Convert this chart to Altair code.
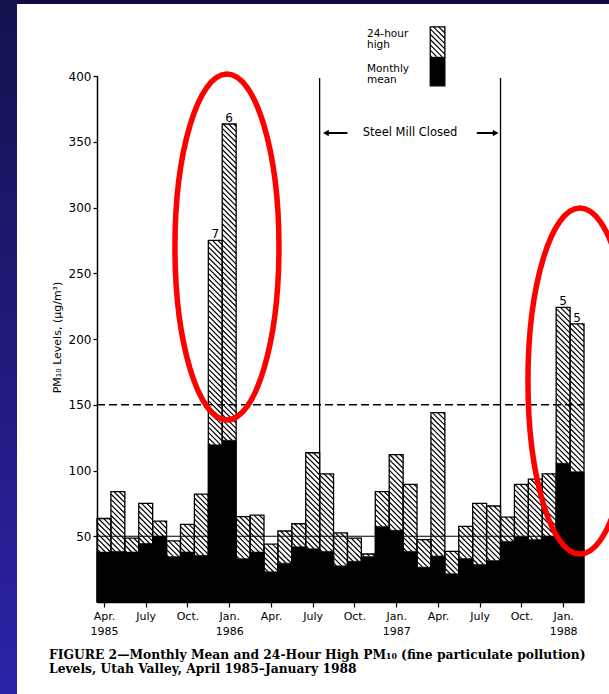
import json
import altair as alt
import numpy as np
import pandas as pd

# ---------------- data ----------------
months = ["Apr 1985", "May 1985", "Jun 1985", "Jul 1985", "Aug 1985", "Sep 1985", "Oct 1985",
          "Nov 1985", "Dec 1985", "Jan 1986", "Feb 1986", "Mar 1986", "Apr 1986", "May 1986",
          "Jun 1986", "Jul 1986", "Aug 1986", "Sep 1986", "Oct 1986", "Nov 1986", "Dec 1986",
          "Jan 1987", "Feb 1987", "Mar 1987", "Apr 1987", "May 1987", "Jun 1987", "Jul 1987",
          "Aug 1987", "Sep 1987", "Oct 1987", "Nov 1987", "Dec 1987", "Jan 1988", "Feb 1988"]
high_24h = [63.5, 84, 48.5, 75, 61.5, 46.5, 59, 82, 275, 363.5,
            65, 66, 44, 54, 59.5, 113.5, 97.5, 52.5, 48.5, 36.5,
            84, 112, 89.5, 47.5, 144, 38.5, 57.5, 75, 73, 64.5,
            89.5, 93.5, 97.5, 224, 211.5]
monthly_mean = [38, 38.5, 38, 44.5, 50, 34.5, 38, 35.5, 119.5, 123,
                33, 38, 23, 29.5, 42, 40.5, 38.5, 27.5, 31, 34.5,
                57.5, 54.5, 38.5, 26.5, 35, 21.5, 33, 28.5, 31.5, 46,
                49.5, 47.5, 50, 105.5, 99]
days_over_label = [""] * 8 + ["7", "6"] + [""] * 23 + ["5", "5"]

tick_at = ["Apr 1985", "Jul 1985", "Oct 1985", "Jan 1986", "Apr 1986", "Jul 1986",
           "Oct 1986", "Jan 1987", "Apr 1987", "Jul 1987", "Oct 1987", "Jan 1988"]
tick_months = ["Apr.", "July", "Oct.", "Jan.", "Apr.", "July", "Oct.", "Jan.",
               "Apr.", "July", "Oct.", "Jan."]
tick_years = ["1985", "", "", "1986", "", "", "", "1987", "", "", "", "1988"]
y_ticks = [50, 100, 150, 200, 250, 300, 350, 400]

mill_closed = "Aug 1986"
mill_reopened = "Sep 1987"
mill_text = "Steel Mill Closed"
standard_24h = 150
standard_annual = 50

legend_x = [23.95, 25.0]
legend_levels = [392.5, 414.6, 437.4]
legend_texts = ["24-hour", "high", "Monthly", "mean"]

ellipse_x = [9.34, 34.71]
ellipse_y = [270, 168]

caption_1 = "FIGURE 2\u2014Monthly Mean and 24-Hour High PM\u2081\u2080 (fine particulate pollution)"
caption_2 = "Levels, Utah Valley, April 1985\u2013January 1988"
y_title = "PM\u2081\u2080 Levels, (\u00b5g/m\u00b3)"

# ---------------- geometry / style ----------------
W, H = 487, 526
NB = len(months)
YMAX = 400
sx = W / NB
sy = H / YMAX
r = sx / sy
FONT = "DejaVu Sans"

bars = pd.DataFrame({
    "month": months,
    "i0": np.arange(NB, dtype=float),
    "i1": np.arange(NB, dtype=float) + 1,
    "ic": np.arange(NB, dtype=float) + 0.5,
    "high": high_24h,
    "mean": monthly_mean,
    "zero": 0.0,
    "lab": days_over_label,
})


def hatch_segments(L, R, lo, hi, step_px=5.3):
    d = step_px / sy
    out = []
    k0 = int(np.ceil((lo + r * L) / d))
    k1 = int(np.floor((hi + r * R) / d))
    for k in range(k0, k1 + 1):
        c = k * d
        xa = max(L, (c - hi) / r)
        xb = min(R, (c - lo) / r)
        if xb - xa > 1e-6:
            out.append({"hx": xa, "hy": c - r * xa, "hx2": xb, "hy2": c - r * xb})
    return out


segs = []
for _, b in bars.iterrows():
    segs += hatch_segments(b.i0, b.i1, b["mean"], b.high)
segs += hatch_segments(legend_x[0], legend_x[1], legend_levels[1], legend_levels[2])
hatch_df = pd.DataFrame(segs)

tick_pos = [months.index(m) + 0.5 for m in tick_at]
label_arr = json.dumps([[m, y] for m, y in zip(tick_months, tick_years)])
label_expr = f"{label_arr}[round((datum.value - 0.5) / 3)]"

xs = alt.Scale(domain=[0, NB], nice=False, zero=False)
ys = alt.Scale(domain=[0, YMAX], nice=False)
x_axis = alt.Axis(values=tick_pos, labelExpr=label_expr, title=None, grid=False,
                  domainColor="black", domainWidth=1.5, tickColor="black", tickWidth=1.2,
                  tickSize=5, labelFont=FONT, labelFontSize=11, labelColor="black",
                  labelPadding=3, labelLineHeight=15, labelFlush=False, labelOverlap=False)
y_axis = alt.Axis(values=y_ticks, title=y_title, grid=False, domainColor="black",
                  domainWidth=1.5, tickColor="black", tickWidth=1.2, tickSize=4,
                  labelFont=FONT, labelFontSize=12, labelColor="black", labelPadding=2,
                  labelOverlap=False, titleFont=FONT, titleFontSize=11,
                  titleFontWeight="normal", titleColor="black", titleAngle=270,
                  titleAlign="center", titleBaseline="middle", titleX=-40, titleY=H / 2 - 2)


def X(f):
    return alt.X(f"{f}:Q", scale=xs, axis=x_axis)


def Y(f):
    return alt.Y(f"{f}:Q", scale=ys, axis=y_axis)


one = pd.DataFrame({"k": [0]})

# background strips (decoration of the slide)
strip_left = alt.Chart(one).mark_rect(
    fill=alt.Gradient(gradient="linear", x1=0, x2=0, y1=0, y2=1,
                      stops=[alt.GradientStop(color="#15124f", offset=0),
                             alt.GradientStop(color="#2c22a8", offset=1)])
).encode(x=alt.value(-97), x2=alt.value(-80), y=alt.value(-76), y2=alt.value(H + 92))
strip_top = alt.Chart(one).mark_rect(color="#0f0d43").encode(
    x=alt.value(-80), x2=alt.value(W + 25), y=alt.value(-76), y2=alt.value(-72))

hatch = alt.Chart(hatch_df).mark_rule(color="black", strokeWidth=1.2).encode(
    x=X("hx"), y=Y("hy"), x2=alt.X2("hx2"), y2=alt.Y2("hy2"))

outline = alt.Chart(bars).mark_rect(fillOpacity=0, stroke="black", strokeWidth=1.3).encode(
    x=X("i0"), x2=alt.X2("i1"), y=Y("zero"), y2=alt.Y2("high"))

black = alt.Chart(bars).mark_rect(color="black", stroke="black", strokeWidth=0.6).encode(
    x=X("i0"), x2=alt.X2("i1"), y=Y("zero"), y2=alt.Y2("mean"))

ref_df = pd.DataFrame({"v": [standard_24h, standard_annual], "a": [0, 0], "b": [NB, NB]})
ref_dash = alt.Chart(ref_df.iloc[[0]]).mark_rule(color="black", strokeWidth=1.3,
                                                 strokeDash=[8, 4]).encode(
    x=X("a"), x2=alt.X2("b"), y=Y("v"))
ref_solid = alt.Chart(ref_df.iloc[[1]]).mark_rule(color="black", strokeWidth=1.2).encode(
    x=X("a"), x2=alt.X2("b"), y=Y("v"))

mill_df = pd.DataFrame({"b": [months.index(mill_closed), months.index(mill_reopened)]})
mill_lines = alt.Chart(mill_df).mark_rule(color="black", strokeWidth=1.3).encode(
    x=X("b"), y=alt.value(2), y2=alt.value(H))

mid = (mill_df.b[0] + mill_df.b[1]) / 2
mill_lab = alt.Chart(pd.DataFrame({"x": [mid], "t": [mill_text]})).mark_text(
    font=FONT, fontSize=11.5, color="black", baseline="middle").encode(
    x=X("x"), y=alt.value(57), text="t:N")

arrow_df = pd.DataFrame({"a": [mill_df.b[0] + 0.4, mill_df.b[1] - 1.7],
                         "b": [mill_df.b[0] + 2.0, mill_df.b[1] - 0.3]})
arrows = alt.Chart(arrow_df).mark_rule(color="black", strokeWidth=2).encode(
    x=X("a"), x2=alt.X2("b"), y=alt.value(57))
head_df = pd.DataFrame({"x": [mill_df.b[0] + 0.45, mill_df.b[1] - 0.35],
                        "s": ["triangle-left", "triangle-right"]})
heads = alt.Chart(head_df).mark_point(filled=True, color="black", opacity=1, size=45).encode(
    x=X("x"), y=alt.value(57), shape=alt.Shape("s:N", scale=None))

leg_df = pd.DataFrame({"a": [legend_x[0]], "b": [legend_x[1]], "lo": [legend_levels[0]],
                       "mid": [legend_levels[1]], "hi": [legend_levels[2]]})
leg_outline = alt.Chart(leg_df).mark_rect(fillOpacity=0, stroke="black", strokeWidth=1.3).encode(
    x=X("a"), x2=alt.X2("b"), y=Y("lo"), y2=alt.Y2("hi"))
leg_black = alt.Chart(leg_df).mark_rect(color="black").encode(
    x=X("a"), x2=alt.X2("b"), y=Y("lo"), y2=alt.Y2("mid"))
leg_text_df = pd.DataFrame({"t": legend_texts, "py": [-42, -31, -7, 4]})
leg_text = alt.Chart(leg_text_df).mark_text(
    font=FONT, fontSize=10.5, color="black", align="left", baseline="middle").encode(
    x=alt.value(270), y=alt.Y("py:Q", scale=None), text="t:N")

counts = alt.Chart(bars[bars.lab != ""]).mark_text(
    font=FONT, fontSize=12, color="black", baseline="alphabetic", dy=-2).encode(
    x=X("ic"), y=Y("high"), text="lab:N")

k = 0.5523
a = 52 / 173
ell_path = (f"M 0 -1 C {k*a:.4f} -1 {a:.4f} {-k:.4f} {a:.4f} 0 "
            f"C {a:.4f} {k:.4f} {k*a:.4f} 1 0 1 "
            f"C {-k*a:.4f} 1 {-a:.4f} {k:.4f} {-a:.4f} 0 "
            f"C {-a:.4f} {-k:.4f} {-k*a:.4f} -1 0 -1 Z")
ell_df = pd.DataFrame({"ex": ellipse_x, "ey": ellipse_y})
ellipses = alt.Chart(ell_df).mark_point(
    shape=ell_path, filled=False, stroke="#ff0000", strokeWidth=5.5, opacity=1,
    size=(2 * 173) ** 2).encode(x=X("ex"), y=Y("ey"))

cap_df = pd.DataFrame({"t": [caption_1, caption_2], "py": [583, 597]})
caption = alt.Chart(cap_df).mark_text(
    font="DejaVu Serif", fontWeight="bold", fontSize=12.3, color="black",
    align="left", baseline="alphabetic").encode(
    x=alt.value(-48), y=alt.Y("py:Q", scale=None), text="t:N")

chart = alt.layer(
    strip_left, strip_top, hatch, outline, black, ref_dash, ref_solid, mill_lines,
    mill_lab, arrows, heads, leg_outline, leg_black, leg_text, counts, ellipses, caption
).properties(
    width=W, height=H,
    autosize=alt.AutoSizeParams(type="none"),
    padding={"left": 97, "top": 76, "right": 25, "bottom": 92},
).configure(background="white").configure_view(strokeWidth=0)

chart.save("out.html", embed_options={"renderer": "svg", "actions": False})
